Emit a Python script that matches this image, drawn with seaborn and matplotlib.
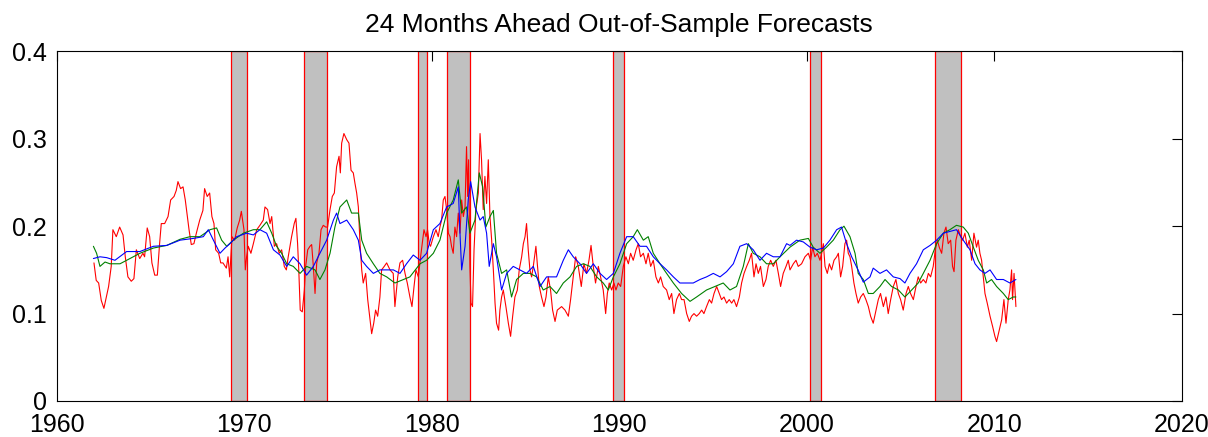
import matplotlib
matplotlib.use("Agg")
import matplotlib.pyplot as plt
import seaborn as sns
import pandas as pd

# recession bands
rec_start = [1969.31, 1973.19, 1979.29, 1980.82, 1989.65, 2000.18, 2006.83]
rec_end = [1970.17, 1974.42, 1979.73, 1982.04, 1990.24, 2000.76, 2008.25]

red_t = [1961.99, 1962.11, 1962.24, 1962.38, 1962.52, 1962.65, 1962.77, 1962.91, 1963.00, 1963.18,
         1963.36, 1963.54, 1963.66, 1963.80, 1963.98, 1964.12, 1964.25, 1964.43, 1964.60, 1964.69,
         1964.83, 1964.96, 1965.08, 1965.23, 1965.37, 1965.49, 1965.58, 1965.76, 1965.94, 1966.08,
         1966.26, 1966.38, 1966.47, 1966.61, 1966.74, 1966.86, 1966.97, 1967.06, 1967.18, 1967.32,
         1967.45, 1967.63, 1967.80, 1967.89, 1968.03, 1968.16, 1968.28, 1968.39, 1968.48, 1968.64,
         1968.75, 1968.87, 1969.05, 1969.14, 1969.23, 1969.35, 1969.49, 1969.63, 1969.76, 1969.85,
         1969.99, 1970.06, 1970.13, 1970.22, 1970.36, 1970.49, 1970.67, 1970.84, 1971.02, 1971.11,
         1971.25, 1971.38, 1971.47, 1971.61, 1971.73, 1971.87, 1972.00, 1972.14, 1972.25, 1972.35,
         1972.53, 1972.67, 1972.76, 1972.85, 1972.92, 1972.99, 1973.10, 1973.21, 1973.28, 1973.39,
         1973.51, 1973.60, 1973.69, 1973.78, 1973.87, 1973.99, 1974.10, 1974.22, 1974.35, 1974.45,
         1974.58, 1974.70, 1974.81, 1974.93, 1975.06, 1975.13, 1975.20, 1975.32, 1975.47, 1975.59,
         1975.70, 1975.82, 1975.91, 1976.00, 1976.09, 1976.18, 1976.27, 1976.35, 1976.48, 1976.59,
         1976.69, 1976.80, 1976.91, 1977.01, 1977.12, 1977.24, 1977.33, 1977.47, 1977.60, 1977.78,
         1977.95, 1978.04, 1978.19, 1978.31, 1978.45, 1978.58, 1978.70, 1978.84, 1978.95, 1979.06,
         1979.16, 1979.29, 1979.41, 1979.52, 1979.59, 1979.70, 1979.78, 1979.87, 1979.94, 1980.09,
         1980.23, 1980.35, 1980.44, 1980.53, 1980.62, 1980.71, 1980.80, 1980.89, 1980.98, 1981.06,
         1981.15, 1981.24, 1981.33, 1981.42, 1981.51, 1981.60, 1981.69, 1981.78, 1981.86, 1981.92,
         1981.97, 1982.04, 1982.10, 1982.18, 1982.26, 1982.36, 1982.49, 1982.58, 1982.66, 1982.75,
         1982.84, 1982.93, 1983.02, 1983.11, 1983.20, 1983.29, 1983.38, 1983.46, 1983.57, 1983.64,
         1983.73, 1983.82, 1983.96, 1984.09, 1984.21, 1984.32, 1984.44, 1984.57, 1984.67, 1984.80,
         1984.89, 1984.98, 1985.06, 1985.15, 1985.24, 1985.33, 1985.42, 1985.56, 1985.63, 1985.74,
         1985.86, 1985.99, 1986.10, 1986.22, 1986.34, 1986.45, 1986.58, 1986.70, 1986.93, 1987.11,
         1987.29, 1987.41, 1987.55, 1987.68, 1987.82, 1987.98, 1988.12, 1988.26, 1988.39, 1988.50,
         1988.62, 1988.74, 1988.89, 1989.01, 1989.15, 1989.28, 1989.37, 1989.47, 1989.60, 1989.72,
         1989.83, 1989.95, 1990.08, 1990.22, 1990.36, 1990.49, 1990.61, 1990.75, 1990.90, 1991.02,
         1991.14, 1991.29, 1991.43, 1991.55, 1991.68, 1991.82, 1991.96, 1992.09, 1992.21, 1992.35,
         1992.53, 1992.67, 1992.80, 1992.92, 1993.06, 1993.21, 1993.33, 1993.46, 1993.60, 1993.74,
         1993.86, 1993.99, 1994.13, 1994.27, 1994.40, 1994.52, 1994.66, 1994.81, 1994.93, 1995.06,
         1995.20, 1995.34, 1995.46, 1995.59, 1995.73, 1995.87, 1996.00, 1996.12, 1996.26, 1996.41,
         1996.53, 1996.66, 1996.80, 1996.94, 1997.06, 1997.19, 1997.30, 1997.42, 1997.54, 1997.69,
         1997.83, 1997.95, 1998.08, 1998.22, 1998.36, 1998.49, 1998.61, 1998.75, 1998.90, 1999.02,
         1999.11, 1999.29, 1999.43, 1999.55, 1999.73, 1999.91, 2000.09, 2000.21, 2000.32, 2000.44,
         2000.57, 2000.71, 2000.80, 2000.89, 2000.98, 2001.10, 2001.21, 2001.33, 2001.46, 2001.60,
         2001.69, 2001.81, 2001.92, 2002.04, 2002.13, 2002.22, 2002.31, 2002.40, 2002.52, 2002.63,
         2002.75, 2002.88, 2003.02, 2003.16, 2003.29, 2003.41, 2003.55, 2003.70, 2003.82, 2003.94,
         2004.09, 2004.23, 2004.35, 2004.48, 2004.62, 2004.76, 2004.89, 2005.01, 2005.15, 2005.30,
         2005.42, 2005.54, 2005.69, 2005.83, 2005.95, 2006.08, 2006.22, 2006.36, 2006.49, 2006.61,
         2006.75, 2006.86, 2006.97, 2007.07, 2007.20, 2007.32, 2007.43, 2007.55, 2007.68, 2007.78,
         2007.86, 2007.96, 2008.09, 2008.21, 2008.32, 2008.44, 2008.57, 2008.67, 2008.80, 2008.92,
         2009.06, 2009.15, 2009.24, 2009.33, 2009.42, 2009.51, 2009.63, 2009.78, 2009.92, 2010.04,
         2010.13, 2010.27, 2010.40, 2010.52, 2010.63, 2010.75, 2010.84, 2010.93, 2010.98, 2011.06,
         2011.16]
red_v = [0.158, 0.138, 0.135, 0.115, 0.106, 0.119, 0.131, 0.154, 0.196, 0.188,
         0.199, 0.190, 0.165, 0.142, 0.137, 0.140, 0.173, 0.163, 0.169, 0.165,
         0.198, 0.188, 0.158, 0.144, 0.144, 0.180, 0.203, 0.203, 0.211, 0.230,
         0.234, 0.241, 0.251, 0.243, 0.245, 0.230, 0.211, 0.196, 0.179, 0.180,
         0.192, 0.207, 0.218, 0.243, 0.234, 0.238, 0.211, 0.203, 0.173, 0.169,
         0.158, 0.158, 0.152, 0.165, 0.142, 0.188, 0.184, 0.198, 0.207, 0.217,
         0.196, 0.150, 0.165, 0.177, 0.169, 0.180, 0.196, 0.201, 0.207, 0.222,
         0.219, 0.203, 0.211, 0.177, 0.180, 0.169, 0.173, 0.154, 0.150, 0.165,
         0.188, 0.203, 0.209, 0.180, 0.146, 0.104, 0.102, 0.127, 0.154, 0.173,
         0.177, 0.179, 0.154, 0.123, 0.158, 0.169, 0.196, 0.201, 0.199, 0.199,
         0.219, 0.234, 0.238, 0.268, 0.280, 0.261, 0.295, 0.306, 0.299, 0.295,
         0.264, 0.261, 0.249, 0.238, 0.222, 0.180, 0.150, 0.135, 0.146, 0.116,
         0.097, 0.077, 0.089, 0.104, 0.097, 0.119, 0.150, 0.154, 0.158, 0.150,
         0.146, 0.108, 0.142, 0.158, 0.161, 0.146, 0.135, 0.119, 0.108, 0.131,
         0.150, 0.142, 0.165, 0.184, 0.196, 0.188, 0.196, 0.180, 0.177, 0.188,
         0.196, 0.188, 0.199, 0.207, 0.230, 0.234, 0.219, 0.192, 0.188, 0.177,
         0.169, 0.199, 0.188, 0.215, 0.192, 0.230, 0.211, 0.222, 0.291, 0.234,
         0.276, 0.154, 0.112, 0.108, 0.173, 0.219, 0.238, 0.306, 0.276, 0.219,
         0.257, 0.226, 0.276, 0.211, 0.184, 0.150, 0.112, 0.089, 0.081, 0.104,
         0.119, 0.127, 0.108, 0.089, 0.074, 0.097, 0.119, 0.127, 0.150, 0.165,
         0.180, 0.188, 0.203, 0.173, 0.150, 0.142, 0.154, 0.177, 0.158, 0.131,
         0.119, 0.108, 0.119, 0.142, 0.127, 0.104, 0.091, 0.104, 0.108, 0.104,
         0.097, 0.116, 0.142, 0.165, 0.154, 0.131, 0.157, 0.146, 0.161, 0.178,
         0.154, 0.135, 0.154, 0.142, 0.127, 0.100, 0.123, 0.135, 0.127, 0.135,
         0.127, 0.135, 0.131, 0.154, 0.165, 0.157, 0.169, 0.161, 0.173, 0.180,
         0.165, 0.169, 0.157, 0.169, 0.154, 0.161, 0.142, 0.135, 0.142, 0.131,
         0.127, 0.116, 0.123, 0.100, 0.116, 0.123, 0.116, 0.116, 0.100, 0.091,
         0.097, 0.100, 0.097, 0.100, 0.104, 0.100, 0.108, 0.116, 0.112, 0.123,
         0.131, 0.123, 0.116, 0.119, 0.112, 0.116, 0.112, 0.116, 0.108, 0.119,
         0.135, 0.146, 0.154, 0.161, 0.169, 0.142, 0.157, 0.146, 0.154, 0.131,
         0.139, 0.154, 0.161, 0.154, 0.161, 0.146, 0.131, 0.146, 0.154, 0.161,
         0.150, 0.157, 0.161, 0.154, 0.157, 0.165, 0.169, 0.161, 0.176, 0.165,
         0.169, 0.161, 0.169, 0.180, 0.154, 0.146, 0.157, 0.150, 0.161, 0.165,
         0.169, 0.142, 0.154, 0.180, 0.184, 0.169, 0.165, 0.154, 0.135, 0.123,
         0.112, 0.119, 0.123, 0.116, 0.108, 0.097, 0.089, 0.104, 0.116, 0.123,
         0.108, 0.119, 0.100, 0.116, 0.131, 0.139, 0.123, 0.116, 0.104, 0.123,
         0.131, 0.123, 0.116, 0.131, 0.142, 0.135, 0.139, 0.135, 0.146, 0.142,
         0.154, 0.173, 0.184, 0.176, 0.169, 0.192, 0.199, 0.180, 0.184, 0.154,
         0.148, 0.184, 0.196, 0.188, 0.184, 0.192, 0.176, 0.184, 0.161, 0.192,
         0.176, 0.184, 0.169, 0.161, 0.142, 0.123, 0.112, 0.097, 0.085, 0.074,
         0.068, 0.081, 0.093, 0.116, 0.089, 0.116, 0.127, 0.150, 0.116, 0.146,
         0.108]

green_t = [1961.96, 1962.13, 1962.31, 1962.58, 1962.84, 1963.38, 1963.73, 1964.44, 1965.16, 1965.87,
           1966.58, 1967.11, 1967.64, 1968.18, 1968.53, 1968.80, 1969.07, 1969.42, 1969.96, 1970.49,
           1970.84, 1971.20, 1971.47, 1971.73, 1972.00, 1972.27, 1972.62, 1972.98, 1973.33, 1973.78,
           1974.04, 1974.31, 1974.58, 1974.84, 1975.11, 1975.47, 1975.73, 1976.09, 1976.27, 1976.53,
           1976.89, 1977.24, 1977.60, 1978.04, 1978.49, 1978.84, 1979.38, 1979.73, 1980.09, 1980.44,
           1980.80, 1981.15, 1981.42, 1981.60, 1981.86, 1982.04, 1982.31, 1982.54, 1982.72, 1982.89,
           1983.11, 1983.29, 1983.46, 1983.73, 1984.00, 1984.26, 1984.53, 1984.89, 1985.24, 1985.60,
           1985.95, 1986.31, 1986.66, 1987.02, 1987.38, 1987.73, 1988.09, 1988.44, 1988.80, 1989.15,
           1989.42, 1989.69, 1990.04, 1990.40, 1990.75, 1990.97, 1991.29, 1991.55, 1991.82, 1992.18,
           1992.53, 1992.89, 1993.33, 1993.78, 1994.13, 1994.66, 1995.11, 1995.55, 1995.91, 1996.26,
           1996.62, 1996.89, 1997.15, 1997.51, 1997.86, 1998.22, 1998.58, 1999.11, 1999.64, 2000.09,
           2000.35, 2000.71, 2001.06, 2001.42, 2001.78, 2001.99, 2002.31, 2002.58, 2002.75, 2003.02,
           2003.29, 2003.55, 2003.91, 2004.18, 2004.53, 2004.89, 2005.24, 2005.60, 2005.95, 2006.22,
           2006.58, 2006.93, 2007.29, 2007.64, 2007.99, 2008.35, 2008.62, 2008.89, 2009.15, 2009.42,
           2009.60, 2009.86, 2010.13, 2010.49, 2010.75, 2011.02, 2011.16]
green_v = [0.177, 0.169, 0.154, 0.159, 0.157, 0.157, 0.161, 0.169, 0.175, 0.178,
           0.185, 0.188, 0.188, 0.196, 0.198, 0.184, 0.177, 0.184, 0.192, 0.196,
           0.196, 0.205, 0.192, 0.177, 0.169, 0.157, 0.154, 0.146, 0.154, 0.150,
           0.139, 0.150, 0.169, 0.199, 0.222, 0.230, 0.215, 0.215, 0.184, 0.169,
           0.157, 0.146, 0.142, 0.135, 0.139, 0.142, 0.157, 0.161, 0.169, 0.184,
           0.215, 0.230, 0.253, 0.215, 0.222, 0.192, 0.207, 0.261, 0.245, 0.199,
           0.211, 0.218, 0.169, 0.146, 0.150, 0.119, 0.139, 0.146, 0.146, 0.142,
           0.127, 0.131, 0.123, 0.135, 0.142, 0.154, 0.157, 0.154, 0.142, 0.135,
           0.127, 0.142, 0.157, 0.180, 0.188, 0.196, 0.184, 0.188, 0.169, 0.157,
           0.146, 0.135, 0.123, 0.114, 0.119, 0.127, 0.131, 0.135, 0.127, 0.131,
           0.154, 0.180, 0.169, 0.165, 0.157, 0.157, 0.165, 0.176, 0.184, 0.186,
           0.176, 0.169, 0.176, 0.184, 0.196, 0.200, 0.188, 0.169, 0.146, 0.139,
           0.123, 0.123, 0.131, 0.139, 0.131, 0.127, 0.119, 0.127, 0.135, 0.146,
           0.161, 0.180, 0.192, 0.196, 0.201, 0.199, 0.192, 0.176, 0.161, 0.150,
           0.135, 0.139, 0.131, 0.123, 0.116, 0.119, 0.119]

blue_t = [1961.96, 1962.31, 1962.67, 1963.11, 1963.73, 1964.44, 1965.16, 1965.87, 1966.58, 1967.29,
          1967.82, 1968.09, 1968.36, 1968.71, 1968.98, 1969.24, 1969.60, 1970.13, 1970.49, 1970.84,
          1971.20, 1971.56, 1971.91, 1972.27, 1972.62, 1972.98, 1973.33, 1973.69, 1974.04, 1974.40,
          1974.76, 1974.93, 1975.11, 1975.47, 1975.82, 1976.09, 1976.27, 1976.53, 1976.89, 1977.24,
          1977.60, 1977.96, 1978.31, 1978.66, 1979.02, 1979.38, 1979.73, 1980.09, 1980.44, 1980.80,
          1981.15, 1981.42, 1981.51, 1981.60, 1981.78, 1981.95, 1982.08, 1982.31, 1982.58, 1982.75,
          1982.93, 1983.07, 1983.29, 1983.46, 1983.73, 1984.00, 1984.35, 1984.71, 1985.06, 1985.42,
          1985.78, 1986.13, 1986.66, 1987.02, 1987.29, 1987.55, 1987.91, 1988.26, 1988.62, 1988.98,
          1989.33, 1989.69, 1990.04, 1990.40, 1990.75, 1991.11, 1991.46, 1991.82, 1992.18, 1992.53,
          1992.89, 1993.24, 1993.60, 1993.95, 1994.31, 1994.66, 1995.02, 1995.38, 1995.73, 1996.09,
          1996.44, 1996.80, 1997.15, 1997.51, 1997.86, 1998.22, 1998.58, 1998.93, 1999.11, 1999.46,
          1999.82, 2000.18, 2000.53, 2000.89, 2001.24, 2001.60, 2001.86, 2002.13, 2002.40, 2002.74,
          2003.02, 2003.38, 2003.55, 2003.91, 2004.26, 2004.62, 2004.98, 2005.24, 2005.51, 2005.86,
          2006.22, 2006.58, 2006.93, 2007.29, 2007.64, 2007.99, 2008.35, 2008.71, 2008.98, 2009.24,
          2009.51, 2009.78, 2010.13, 2010.49, 2010.84, 2011.16]
blue_v = [0.163, 0.165, 0.164, 0.161, 0.171, 0.171, 0.177, 0.178, 0.184, 0.186,
          0.188, 0.196, 0.184, 0.169, 0.175, 0.180, 0.188, 0.192, 0.190, 0.196,
          0.192, 0.173, 0.167, 0.154, 0.165, 0.157, 0.144, 0.154, 0.169, 0.184,
          0.207, 0.215, 0.203, 0.207, 0.196, 0.184, 0.161, 0.154, 0.146, 0.150,
          0.150, 0.150, 0.146, 0.157, 0.167, 0.161, 0.169, 0.196, 0.203, 0.222,
          0.226, 0.245, 0.192, 0.150, 0.177, 0.230, 0.251, 0.222, 0.207, 0.211,
          0.192, 0.154, 0.180, 0.165, 0.127, 0.146, 0.154, 0.150, 0.146, 0.154,
          0.131, 0.142, 0.142, 0.161, 0.173, 0.165, 0.157, 0.146, 0.157, 0.146,
          0.139, 0.146, 0.169, 0.188, 0.188, 0.177, 0.177, 0.165, 0.157, 0.150,
          0.142, 0.135, 0.135, 0.135, 0.139, 0.142, 0.146, 0.142, 0.148, 0.157,
          0.177, 0.180, 0.173, 0.161, 0.169, 0.165, 0.165, 0.180, 0.178, 0.184,
          0.182, 0.176, 0.173, 0.175, 0.184, 0.196, 0.199, 0.180, 0.165, 0.150,
          0.136, 0.142, 0.152, 0.146, 0.150, 0.142, 0.140, 0.135, 0.146, 0.157,
          0.173, 0.178, 0.184, 0.192, 0.194, 0.196, 0.184, 0.173, 0.157, 0.150,
          0.146, 0.150, 0.139, 0.139, 0.135, 0.139]

df = pd.concat([
    pd.DataFrame({"year": red_t, "value": red_v, "series": "red"}),
    pd.DataFrame({"year": green_t, "value": green_v, "series": "green"}),
    pd.DataFrame({"year": blue_t, "value": blue_v, "series": "blue"}),
], ignore_index=True)

sns.set_style("white")
plt.rcParams["font.family"] = ["Liberation Sans", "DejaVu Sans"]
plt.rcParams["text.color"] = "black"

fig = plt.figure(figsize=(12.08, 4.37), dpi=100)
ax = fig.add_axes([0.0469, 0.0824, 0.9313, 0.800])

for s, e in zip(rec_start, rec_end):
    ax.axvspan(s, e, facecolor="#c0c0c0", edgecolor="#ff0000", linewidth=0.9, zorder=1)

sns.lineplot(data=df, x="year", y="value", hue="series",
             palette={"red": "#ff0000", "green": "#008000", "blue": "#0000ff"},
             estimator=None, sort=False, linewidth=0.8, legend=False, ax=ax, zorder=3)

ax.set_xlim(1960, 2020)
ax.set_ylim(0, 0.4)
ax.set_xticks([1960, 1970, 1980, 1990, 2000, 2010, 2020])
ax.set_yticks([0, 0.1, 0.2, 0.3, 0.4])
ax.set_yticklabels(["0", "0.1", "0.2", "0.3", "0.4"])
ax.set_xlabel("")
ax.set_ylabel("")
ax.tick_params(direction="in", length=7.5, width=0.8, labelsize=18, top=True, right=True,
               colors="black", labelcolor="black")
ax.tick_params(axis="x", pad=9)
ax.tick_params(axis="y", pad=7)
for sp in ax.spines.values():
    sp.set_visible(True)
    sp.set_color("black")
    sp.set_linewidth(0.8)
ax.set_title("24 Months Ahead Out-of-Sample Forecasts", fontsize=19, pad=14, color="black")

fig.savefig("out.png", dpi=100)
